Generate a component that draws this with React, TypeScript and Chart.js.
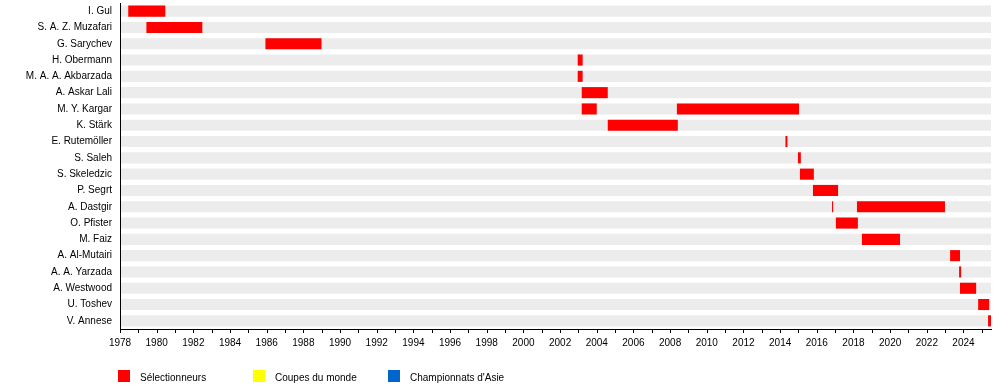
import React, { useEffect, useRef } from "react";
import { Chart, registerables } from "chart.js";

Chart.register(...registerables);

const names = [
  "I. Gul",
  "S. A. Z. Muzafari",
  "G. Sarychev",
  "H. Obermann",
  "M. A. A. Akbarzada",
  "A. Askar Lali",
  "M. Y. Kargar",
  "K. Stärk",
  "E. Rutemöller",
  "S. Saleh",
  "S. Skeledzic",
  "P. Segrt",
  "A. Dastgir",
  "O. Pfister",
  "M. Faiz",
  "A. Al-Mutairi",
  "A. A. Yarzada",
  "A. Westwood",
  "U. Toshev",
  "V. Annese",
];

// first (or only) coaching spell per row: [start, end] in decimal years
const spellA: [number, number][] = [
  [1978.45, 1980.47],
  [1979.44, 1982.49],
  [1985.93, 1988.99],
  [2002.96, 2003.23],
  [2002.96, 2003.23],
  [2003.18, 2004.6],
  [2003.18, 2004.0],
  [2004.6, 2008.42],
  [2014.29, 2014.4],
  [2014.97, 2015.13],
  [2015.08, 2015.84],
  [2015.79, 2017.16],
  [2016.83, 2016.89],
  [2017.04, 2018.24],
  [2018.46, 2020.54],
  [2023.27, 2023.81],
  [2023.76, 2023.87],
  [2023.81, 2024.69],
  [2024.8, 2025.4],
  [2025.34, 2025.5],
];

// second coaching spell (only Kargar and Dastgir)
const spellB: ([number, number] | null)[] = [
  null, null, null, null, null, null,
  [2008.37, 2015.03],
  null, null, null, null, null,
  [2018.19, 2022.99],
  null, null, null, null, null, null, null,
];

const yearMin = 1978;
const yearMax = 2025.5;

const legendLabels = ["Sélectionneurs", "Coupes du monde", "Championnats d'Asie"];
const legendColors = ["#ff0000", "#ffff00", "#0066cc"];

const FONT = "'Liberation Sans', Arial, sans-serif";

// draws the small year tick marks below the x axis, at the scale's own tick positions
const tickMarks = {
  id: "tickMarks",
  afterDraw(chart: any) {
    const scale = chart.scales.x;
    const ctx = chart.ctx;
    const y0 = Math.round(chart.chartArea.bottom);
    ctx.save();
    ctx.strokeStyle = "#000";
    ctx.lineWidth = 1;
    ctx.beginPath();
    for (const t of scale.ticks) {
      const x = Math.round(scale.getPixelForValue(t.value)) + 0.5;
      ctx.moveTo(x, y0);
      ctx.lineTo(x, y0 + 4);
    }
    ctx.stroke();
    ctx.restore();
  },
};

export default function App() {
  const ref = useRef<HTMLCanvasElement | null>(null);

  useEffect(() => {
    if (!ref.current) return;
    const chart = new Chart(ref.current, {
      type: "bar",
      data: {
        labels: names,
        datasets: [
          {
            label: "Sélectionneurs",
            data: spellA as any,
            backgroundColor: "#ff0000",
            borderWidth: 0,
            order: 1,
          },
          {
            label: "Sélectionneurs 2",
            data: spellB as any,
            backgroundColor: "#ff0000",
            borderWidth: 0,
            order: 1,
          },
          {
            label: "band",
            data: names.map(() => [yearMin, yearMax]) as any,
            backgroundColor: "#ececec",
            borderWidth: 0,
            order: 5,
          },
        ],
      },
      plugins: [tickMarks],
      options: {
        indexAxis: "y",
        animation: false,
        responsive: false,
        maintainAspectRatio: false,
        grouped: false,
        categoryPercentage: 1,
        barPercentage: 0.68,
        layout: { padding: { left: 0, right: 9, top: 3, bottom: 0 } },
        plugins: {
          legend: { display: false },
          tooltip: { enabled: false },
        },
        scales: {
          x: {
            type: "linear",
            min: yearMin,
            max: yearMax,
            position: "bottom",
            afterFit: (scale: any) => {
              scale.height = 59;
              scale.paddingLeft = 0;
              scale.paddingRight = 0;
            },
            ticks: {
              stepSize: 1,
              includeBounds: false,
              autoSkip: false,
              maxRotation: 0,
              minRotation: 0,
              padding: 8,
              color: "#000",
              font: { family: FONT, size: 10 },
              callback: (v: any) => (Number(v) % 2 === 0 ? String(v) : ""),
            },
            grid: {
              display: false,
              drawOnChartArea: false,
              drawTicks: false,
            },
            border: { display: true, color: "#000", width: 1 },
          },
          y: {
            type: "category",
            afterFit: (scale: any) => {
              scale.width = 120;
              scale.paddingTop = 0;
              scale.paddingBottom = 0;
            },
            ticks: {
              color: "#000",
              padding: 8,
              font: { family: FONT, size: 10 },
            },
            grid: { display: false, drawTicks: false },
            border: { display: true, color: "#000", width: 1, z: 2 },
          },
        },
      } as any,
    });
    return () => chart.destroy();
  }, []);

  const legendX = [118, 253, 388];

  return (
    <div
      style={{
        position: "fixed",
        left: 0,
        top: 0,
        width: 1000,
        height: 388,
        background: "#fff",
        fontFamily: FONT,
      }}
    >
      <canvas ref={ref} width={1000} height={388} style={{ display: "block" }} />
      {legendLabels.map((t, i) => (
        <div key={t}>
          <div
            style={{
              position: "absolute",
              left: legendX[i],
              top: 370,
              width: 12,
              height: 12,
              background: legendColors[i],
            }}
          />
          <div
            style={{
              position: "absolute",
              left: legendX[i] + 22,
              top: 371,
              height: 14,
              lineHeight: "14px",
              fontSize: 10,
              color: "#000",
              whiteSpace: "nowrap",
            }}
          >
            {t}
          </div>
        </div>
      ))}
    </div>
  );
}
